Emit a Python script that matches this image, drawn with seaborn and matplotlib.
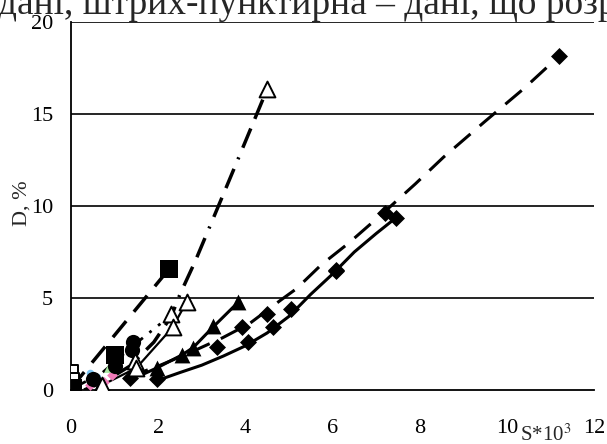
import matplotlib
matplotlib.use('Agg')
import matplotlib.pyplot as plt
import seaborn as sns

# --- data (S*10^3 vs D, %) ---
# filled diamonds, solid trend
dia_solid_x = [1.97, 4.05, 4.64, 5.05, 6.08, 7.45]
dia_solid_y = [0.6, 2.6, 3.42, 4.4, 6.47, 9.35]
trend_solid_x = [1.9, 2.5, 3.0, 3.5, 4.0, 4.5, 5.0, 5.5, 6.0, 6.5, 7.0, 7.45]
trend_solid_y = [0.45, 0.95, 1.35, 1.85, 2.4, 3.1, 4.0, 5.2, 6.3, 7.5, 8.5, 9.35]

# filled diamonds, long dashed trend
dia_dash_x = [1.35, 3.34, 3.93, 4.5, 6.08, 7.2, 11.2]
dia_dash_y = [0.65, 2.34, 3.42, 4.15, 6.5, 9.6, 18.15]
trend_dash_x = [1.3, 2.0, 2.7, 3.47, 4.09, 4.82, 5.17, 5.74, 6.38, 7.2, 7.9, 8.55, 9.5, 10.4, 11.2]
trend_dash_y = [0.7, 1.3, 2.0, 2.83, 3.6, 4.9, 5.5, 6.8, 8.0, 9.7, 11.2, 12.66, 14.6, 16.4, 18.15]

# filled triangles
tri_x = [1.97, 2.54, 2.8, 3.25, 3.84]
tri_y = [1.2, 1.9, 2.3, 3.5, 4.78]
trend_tri_x = [1.6, 1.97, 2.54, 2.8, 3.25, 3.84]
trend_tri_y = [0.8, 1.2, 1.9, 2.3, 3.4, 4.78]

# open triangles, dash-dot trend up to 16.35
otri_a_x = [0.66, 1.46, 2.29, 4.5]
otri_a_y = [0.1, 1.6, 4.13, 16.35]
trend_otri_a_x = [0.3, 0.8, 1.35, 1.9, 2.3, 2.5, 2.85, 3.18, 3.63, 4.0, 4.5]
trend_otri_a_y = [0.0, 0.5, 1.3, 2.6, 4.0, 5.2, 7.0, 8.86, 11.4, 13.5, 16.35]

# open triangles, solid trend
otri_b_x = [0.7, 1.5, 2.33, 2.65]
otri_b_y = [0.25, 1.2, 3.4, 4.78]

# filled squares, dashed trend
sq_x = [0.0, 1.0, 2.24]
sq_y = [0.1, 1.9, 6.55]
trend_sq_x = [0.0, 2.24]
trend_sq_y = [0.1, 6.55]

# filled circles, dash-dot trend
circ_x = [0.0, 0.5, 1.0, 1.4, 1.42]
circ_y = [0.1, 0.6, 1.3, 2.2, 2.6]
trend_circ_x = [0.0, 0.7, 1.42, 2.05]
trend_circ_y = [0.05, 0.9, 2.4, 3.6]

# open squares near the origin
osq_x = [0.0, 0.02]
osq_y = [1.0, 0.55]

# small coloured points
pink_x = [0.43, 0.75, 0.94]
pink_y = [0.27, 0.45, 0.8]
green_x = [0.85, 1.0]
green_y = [1.2, 1.6]
blue_x = [0.43, 0.6]
blue_y = [0.9, 0.7]

# black points at the origin
orig_x = [0.0, 0.05, 0.1]
orig_y = [0.0, 0.1, 0.2]

x_ticks = [0, 2, 4, 6, 8, 10, 12]
y_ticks = [0, 5, 10, 15, 20]

sns.set_style('white')
plt.rcParams['font.family'] = ['Liberation Serif', 'DejaVu Serif']
plt.rcParams['mathtext.fontset'] = 'stix'

fig = plt.figure(figsize=(6.07, 4.44), dpi=100)
ax = fig.add_axes([0.117, 0.1216, 0.8616, 0.8289])

# trend lines
sns.lineplot(x=trend_solid_x, y=trend_solid_y, ax=ax, color='black', lw=2.2,
             sort=False, estimator=None)
sns.lineplot(x=trend_dash_x, y=trend_dash_y, ax=ax, color='black', lw=2.2,
             linestyle=(0, (7, 4)), sort=False, estimator=None)
sns.lineplot(x=trend_tri_x, y=trend_tri_y, ax=ax, color='black', lw=2.2,
             sort=False, estimator=None)
sns.lineplot(x=trend_otri_a_x, y=trend_otri_a_y, ax=ax, color='black', lw=2.5,
             linestyle=(0, (6, 3, 6, 3, 0.6, 3)), sort=False, estimator=None)
sns.lineplot(x=otri_b_x, y=otri_b_y, ax=ax, color='black', lw=1.6,
             sort=False, estimator=None)
sns.lineplot(x=trend_sq_x, y=trend_sq_y, ax=ax, color='black', lw=2.5,
             linestyle=(0, (6, 3.5)), sort=False, estimator=None)
sns.lineplot(x=trend_circ_x, y=trend_circ_y, ax=ax, color='black', lw=2.0,
             linestyle=(0, (6, 3, 1, 3)), sort=False, estimator=None)

# markers
sns.scatterplot(x=pink_x, y=pink_y, ax=ax, marker='D', s=30, color='#f07ab8', linewidth=0, zorder=3)
sns.scatterplot(x=green_x, y=green_y, ax=ax, marker='^', s=40, color='#a8e4a0', linewidth=0, zorder=3)
sns.scatterplot(x=blue_x, y=blue_y, ax=ax, marker='o', s=30, color='#7cc4f0', linewidth=0, zorder=3)
sns.scatterplot(x=dia_solid_x, y=dia_solid_y, ax=ax, marker='D', s=75, color='black', linewidth=0, zorder=4)
sns.scatterplot(x=dia_dash_x, y=dia_dash_y, ax=ax, marker='D', s=75, color='black', linewidth=0, zorder=4)
sns.scatterplot(x=tri_x, y=tri_y, ax=ax, marker='^', s=130, color='black', linewidth=0, zorder=4)
sns.scatterplot(x=otri_a_x, y=otri_a_y, ax=ax, marker='^', s=130, color='white',
                edgecolor='black', linewidth=1.4, zorder=5)
sns.scatterplot(x=otri_b_x, y=otri_b_y, ax=ax, marker='^', s=130, color='white',
                edgecolor='black', linewidth=1.4, zorder=5)
sns.scatterplot(x=sq_x, y=sq_y, ax=ax, marker='s', s=150, color='black', linewidth=0, zorder=4)
sns.scatterplot(x=circ_x, y=circ_y, ax=ax, marker='o', s=120, color='black', linewidth=0, zorder=4)
sns.scatterplot(x=osq_x, y=osq_y, ax=ax, marker='s', s=100, color='white',
                edgecolor='black', linewidth=1.4, zorder=5)
sns.scatterplot(x=orig_x, y=orig_y, ax=ax, marker='s', s=100, color='black', linewidth=0, zorder=6)

ax.set_xlim(0, 12)
ax.set_ylim(0, 20)
ax.set_xticks(x_ticks)
ax.set_yticks(y_ticks)
ax.set_xticklabels([str(t) for t in x_ticks])
ax.set_yticklabels([str(t) for t in y_ticks])

for y in y_ticks[1:]:
    ax.axhline(y, color='black', lw=1.2, zorder=1)

for side in ['top', 'right']:
    ax.spines[side].set_visible(False)
for side in ['left', 'bottom']:
    ax.spines[side].set_color('black')
    ax.spines[side].set_linewidth(1.3)

ax.tick_params(axis='x', direction='out', length=10, width=1.3, pad=11,
               labelsize=16, colors='black')
ax.tick_params(axis='y', direction='inout', length=14, width=1.3, pad=6,
               labelsize=16, colors='black')
for lab in ax.get_xticklabels() + ax.get_yticklabels():
    lab.set_clip_on(False)

# axis titles
fig.text(22 / 607, 1 - 203 / 444, 'D, %', fontsize=16, rotation=90,
         ha='center', va='center')
fig.text(520 / 607, 0.008, 'S*10$^{3}$', fontsize=15, ha='left', va='baseline')

# clipped line of running text above the chart
fig.text(-0.004, 0.968, 'дані, штрих-пунктирна – дані, що розр', fontsize=27,
         ha='left', va='baseline')

fig.savefig('out.png', dpi=100)
